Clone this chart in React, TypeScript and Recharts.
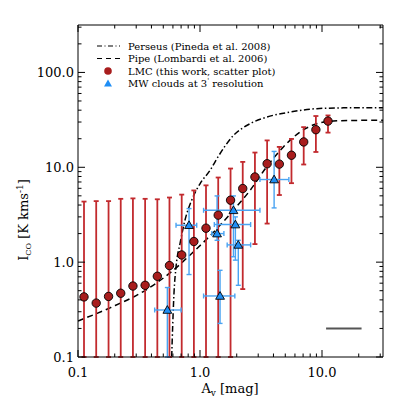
import React from "react"
import {
  ComposedChart,
  XAxis,
  YAxis,
  Scatter,
  Line,
  ErrorBar,
  Legend,
  ReferenceLine,
  Label,
} from "recharts"

// LMC points (this work)
const lmcAv = [0.112, 0.141, 0.178, 0.224, 0.282, 0.355, 0.447, 0.562, 0.708, 0.891, 1.12, 1.41, 1.78, 2.24, 2.82, 3.55, 4.47, 5.62, 7.08, 8.91, 11.2]
const lmcIco = [0.43, 0.37, 0.435, 0.47, 0.56, 0.57, 0.71, 0.92, 1.19, 1.65, 2.28, 3.13, 4.5, 5.97, 7.9, 10.9, 10.8, 13.4, 18.5, 24.9, 30.7]
const lmcIcoLow = [0.1, 0.1, 0.1, 0.1, 0.1, 0.1, 0.1, 0.1, 0.1, 0.1, 0.1, 0.1, 0.1, 0.52, 1.55, 2.55, 5.1, 6.8, 10.7, 14.5, 23.2]
const lmcIcoHigh = [4.35, 4.4, 4.4, 4.65, 4.7, 4.65, 4.6, 4.8, 5.15, 5.7, 6.45, 7.8, 9.7, 11.4, 14.3, 19.2, 16.4, 19.9, 26.5, 34.7, 35.2]

// MW clouds at 3' resolution
const mwAv = [0.54, 0.813, 1.38, 1.46, 1.88, 1.95, 2.06, 4.05]
const mwIco = [0.313, 2.45, 2.0, 0.44, 3.52, 2.49, 1.52, 7.43]
const mwAvLow = [0.425, 0.636, 1.25, 1.07, 1.07, 1.31, 1.67, 3.1]
const mwAvHigh = [0.7, 0.94, 1.57, 1.93, 3.1, 2.6, 2.6, 5.35]
const mwIcoLow = [0.1, 0.74, 1.7, 0.226, 1.14, 1.05, 0.57, 3.73]
const mwIcoHigh = [0.54, 3.67, 4.99, 0.82, 4.99, 3.0, 1.7, 14.7]

// model curves
const perseusAv = [0.586, 0.597, 0.612, 0.636, 0.686, 0.753, 0.855, 1.0, 1.21, 1.4, 1.87, 2.57, 3.52, 5.47, 9.06, 15.0, 31.6]
const perseusIco = [0.1, 0.21, 0.47, 0.89, 1.57, 2.77, 4.5, 6.7, 9.3, 12.8, 21.5, 28.8, 33.8, 38.2, 41.5, 42.3, 42.5]
const pipeAv = [0.1, 0.183, 0.343, 0.445, 0.568, 0.881, 1.21, 1.87, 2.57, 3.52, 4.82, 6.6, 9.06, 12.4, 18.0, 31.6]
const pipeIco = [0.24, 0.33, 0.49, 0.61, 0.77, 1.28, 1.9, 3.5, 5.7, 10.1, 16.4, 23.5, 28.8, 30.7, 31.2, 31.3]

// resolution bar, lower right
const barAv = [10.8, 21.1]
const barIco = 0.2

const xTicks = [0.1, 0.2, 0.3, 0.4, 0.5, 0.6, 0.7, 0.8, 0.9, 1, 2, 3, 4, 5, 6, 7, 8, 9, 10, 20, 30]
const yTicks = [0.1, 0.2, 0.3, 0.4, 0.5, 0.6, 0.7, 0.8, 0.9, 1, 2, 3, 4, 5, 6, 7, 8, 9, 10, 20, 30, 40, 50, 60, 70, 80, 90, 100, 200, 300]
const majorTicks = [0.1, 1, 10, 100]

const SERIF = '"DejaVu Serif", "Liberation Serif", serif'
const RED_BAR = "#c22a2e"
const RED_DOT = "#a81d1d"
const BLUE_BAR = "#4aa3f2"
const BLUE_TRI = "#1f8ef5"

const lmcData = lmcAv.map((a, k) => ({
  a,
  i: lmcIco[k],
  ey: [lmcIco[k] - lmcIcoLow[k], lmcIcoHigh[k] - lmcIco[k]],
}))
const mwData = mwAv.map((a, k) => ({
  a,
  i: mwIco[k],
  ex: [a - mwAvLow[k], mwAvHigh[k] - a],
  ey: [mwIco[k] - mwIcoLow[k], mwIcoHigh[k] - mwIco[k]],
}))
const perseusData = perseusAv.map((a, k) => ({ a, i: perseusIco[k] }))
const pipeData = pipeAv.map((a, k) => ({ a, i: pipeIco[k] }))

const isMajor = (v: number) => majorTicks.includes(v)
const tickLen = (v: number) => (isMajor(v) ? 7 : 3.5)

function BottomTick({ x, y, payload }: any) {
  const v = payload.value
  return (
    <g>
      <line x1={x} y1={y} x2={x} y2={y - tickLen(v)} stroke="#000" />
      {isMajor(v) && (
        <text x={x} y={y + 20} textAnchor="middle" fontFamily={SERIF} fontSize={13} fill="#000">
          {v.toFixed(1)}
        </text>
      )}
    </g>
  )
}

function TopTick({ x, y, payload }: any) {
  return <line x1={x} y1={y} x2={x} y2={y + tickLen(payload.value)} stroke="#000" />
}

function LeftTick({ x, y, payload }: any) {
  const v = payload.value
  return (
    <g>
      <line x1={x} y1={y} x2={x + tickLen(v)} y2={y} stroke="#000" />
      {isMajor(v) && (
        <text x={x - 4} y={y + 4.5} textAnchor="end" fontFamily={SERIF} fontSize={13} fill="#000">
          {v.toFixed(1)}
        </text>
      )}
    </g>
  )
}

function RightTick({ x, y, payload }: any) {
  return <line x1={x} y1={y} x2={x - tickLen(payload.value)} y2={y} stroke="#000" />
}

function RedDot({ cx, cy }: any) {
  return <circle cx={cx} cy={cy} r={4.2} fill={RED_DOT} stroke="#000" strokeWidth={0.9} />
}

function BlueTriangle({ cx, cy }: any) {
  const s = 4.4
  return (
    <polygon
      points={`${cx},${cy - s} ${cx + s},${cy + s * 0.75} ${cx - s},${cy + s * 0.75}`}
      fill={BLUE_TRI}
      stroke="#000"
      strokeWidth={0.9}
    />
  )
}

function XTitle() {
  return (
    <text x={230} y={393} textAnchor="middle" fontFamily={SERIF} fontSize={13} fill="#000">
      A<tspan dy={3} fontSize={9}>v</tspan>
      <tspan dy={-3}> [mag]</tspan>
    </text>
  )
}

function YTitle() {
  return (
    <text
      x={28}
      y={220}
      transform="rotate(-90 28 220)"
      textAnchor="middle"
      fontFamily={SERIF}
      fontSize={13}
      fill="#000"
    >
      I<tspan dy={3} fontSize={8}>CO</tspan>
      <tspan dy={-3}> [K kms</tspan>
      <tspan dy={-5} fontSize={9}>-1</tspan>
      <tspan dy={5}>]</tspan>
    </text>
  )
}

function LegendBox() {
  const rows = [8, 20.5, 33, 45.5]
  const text = { fontFamily: SERIF, fontSize: 10, fill: "#000" }
  return (
    <svg width={220} height={56} style={{ display: "block" }}>
      <line x1={7} x2={30} y1={rows[0]} y2={rows[0]} stroke="#000" strokeWidth={1.2} strokeDasharray="5 2.5 1 2.5" />
      <text x={38} y={rows[0] + 3.5} {...text}>Perseus (Pineda et al. 2008)</text>
      <line x1={7} x2={30} y1={rows[1]} y2={rows[1]} stroke="#000" strokeWidth={1.2} strokeDasharray="5 4" />
      <text x={38} y={rows[1] + 3.5} {...text}>Pipe (Lombardi et al. 2006)</text>
      <circle cx={18} cy={rows[2]} r={3.8} fill={RED_DOT} />
      <text x={38} y={rows[2] + 3.5} {...text}>LMC (this work, scatter plot)</text>
      <polygon points={`18,${rows[3] - 4} 22,${rows[3] + 3} 14,${rows[3] + 3}`} fill={BLUE_TRI} />
      <text x={38} y={rows[3] + 3.5} {...text}>
        MW clouds at 3<tspan dy={-4} fontSize={7}>'</tspan>
        <tspan dy={4}> resolution</tspan>
      </text>
    </svg>
  )
}

export default function App() {
  return (
    <div style={{ position: "absolute", left: 0, top: 0, width: 407, height: 407, background: "#fff" }}>
      <ComposedChart width={407} height={407} margin={{ top: 0, right: 0, bottom: 0, left: 0 }}>
        <XAxis
          dataKey="a"
          type="number"
          scale="log"
          domain={[0.1, 31.62]}
          allowDataOverflow
          ticks={xTicks}
          interval={0}
          tickSize={0}
          tickMargin={0}
          tickLine={false}
          tick={BottomTick}
          height={50}
          axisLine={{ stroke: "#000" }}
        >
          <Label content={XTitle} />
        </XAxis>
        <XAxis
          xAxisId="top"
          orientation="top"
          dataKey="a"
          type="number"
          scale="log"
          domain={[0.1, 31.62]}
          allowDataOverflow
          ticks={xTicks}
          interval={0}
          tickSize={0}
          tickMargin={0}
          tickLine={false}
          tick={TopTick}
          height={25}
          axisLine={{ stroke: "#000" }}
        />
        <YAxis
          dataKey="i"
          type="number"
          scale="log"
          domain={[0.1, 316.2]}
          allowDataOverflow
          ticks={yTicks}
          interval={0}
          tickSize={0}
          tickMargin={0}
          tickLine={false}
          tick={LeftTick}
          width={78}
          axisLine={{ stroke: "#000" }}
        >
          <Label content={YTitle} />
        </YAxis>
        <YAxis
          yAxisId="right"
          orientation="right"
          dataKey="i"
          type="number"
          scale="log"
          domain={[0.1, 316.2]}
          allowDataOverflow
          ticks={yTicks}
          interval={0}
          tickSize={0}
          tickMargin={0}
          tickLine={false}
          tick={RightTick}
          width={24}
          axisLine={{ stroke: "#000" }}
        />
        <Line
          data={perseusData}
          dataKey="i"
          type="monotone"
          stroke="#000"
          strokeWidth={1.5}
          strokeDasharray="6 2.5 1.5 2.5"
          dot={false}
          activeDot={false}
          isAnimationActive={false}
        />
        <Line
          data={pipeData}
          dataKey="i"
          type="monotone"
          stroke="#000"
          strokeWidth={1.5}
          strokeDasharray="6 4"
          dot={false}
          activeDot={false}
          isAnimationActive={false}
        />
        <Scatter data={lmcData} dataKey="i" shape={RedDot} isAnimationActive={false}>
          <ErrorBar dataKey="ey" direction="y" width={2.5} stroke={RED_BAR} strokeWidth={1.8} />
        </Scatter>
        <Scatter data={mwData} dataKey="i" shape={BlueTriangle} isAnimationActive={false}>
          <ErrorBar dataKey="ey" direction="y" width={2.5} stroke={BLUE_BAR} strokeWidth={1.4} />
          <ErrorBar dataKey="ex" direction="x" width={2.5} stroke={BLUE_BAR} strokeWidth={1.4} />
        </Scatter>
        <ReferenceLine
          segment={[
            { x: barAv[0], y: barIco },
            { x: barAv[1], y: barIco },
          ]}
          stroke="#555"
          strokeWidth={2}
        />
        <Legend
          content={LegendBox}
          layout="horizontal"
          verticalAlign="middle"
          align="center"
          wrapperStyle={{ left: 90, top: 38, width: 220, height: 56 }}
        />
      </ComposedChart>
    </div>
  )
}
